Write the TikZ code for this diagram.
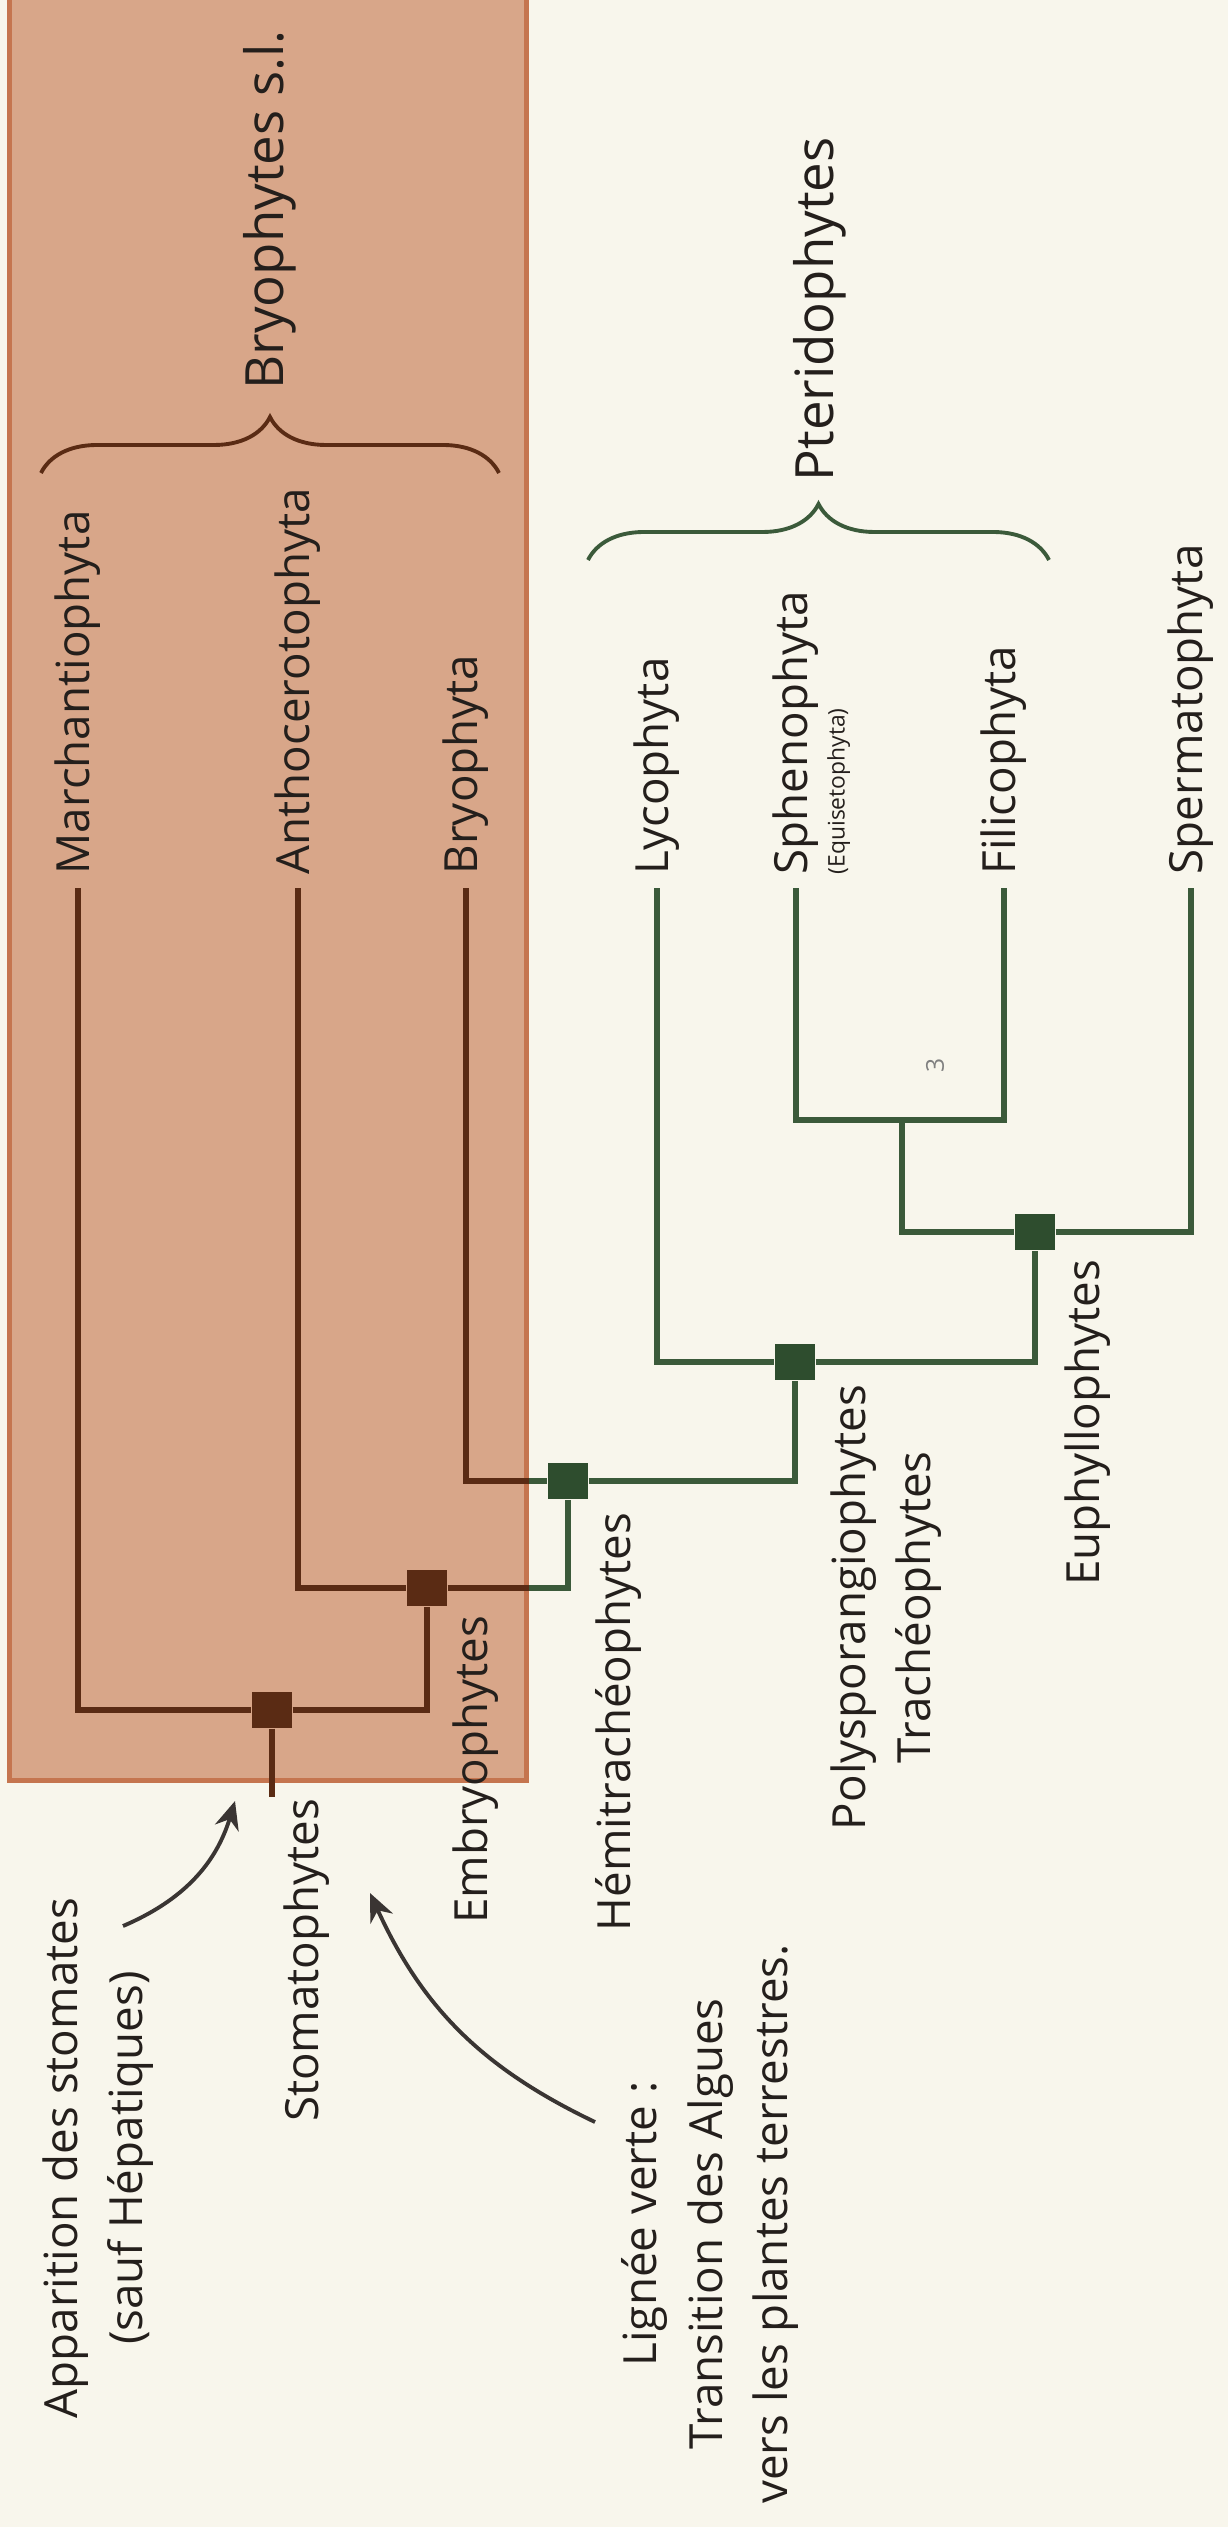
\documentclass[tikz,border=0pt]{standalone}
\usepackage{fontspec}
\setmainfont{Open Sans}
\usetikzlibrary{positioning,arrows.meta,decorations.pathreplacing}

\definecolor{paper}{HTML}{F8F6EC}
\definecolor{bryofill}{HTML}{D8A689}
\definecolor{bryoedge}{HTML}{C5754F}
\definecolor{bark}{HTML}{5A2B14}
\definecolor{fern}{HTML}{3B5A3A}
\definecolor{fernsq}{HTML}{2E4D2E}
\definecolor{ink}{HTML}{241F1C}

\begin{document}
\begin{tikzpicture}[
  x=0.01cm, y=-0.01cm,
  taxon/.style={rotate=90, anchor=west, inner xsep=0.13cm, inner ysep=0pt,
    font=\fontsize{13}{15}\selectfont, text=ink},
  subtaxon/.style={rotate=90, inner xsep=0.13cm, inner ysep=2pt,
    font=\fontsize{6.5}{8}\selectfont, text=ink},
  clade/.style={rotate=90, anchor=east, inner sep=0pt, align=center,
    font=\fontsize{13}{18.5}\selectfont, text=ink},
  group/.style={rotate=90, anchor=west, inner sep=0pt,
    font=\fontsize{15}{18}\selectfont, text=ink},
  note/.style={rotate=90, inner sep=0pt, align=center,
    font=\fontsize{13}{18.5}\selectfont, text=ink},
  brsq/.style={fill=bark, minimum width=0.4cm, minimum height=0.36cm, inner sep=0pt},
  grsq/.style={brsq, fill=fernsq},
  brline/.style={draw=bark, line width=1.5pt},
  grline/.style={draw=fern, line width=1.5pt},
  brace/.style={decorate, line width=1.1pt,
    decoration={brace, amplitude=0.56cm}},
  pointer/.style={draw=ink!90, line width=1.1pt, -{Stealth[length=8pt, width=7pt]}},
  >=Stealth
]
\path[use as bounding box, fill=paper] (0,0) rectangle (1228,2527);

\node[draw=bryoedge, fill=bryofill, line width=1.4pt, minimum width=5.17cm,
  minimum height=17.9cm, inner sep=0pt] (bryo) at (268,885) {};

% taxa
\node[taxon] (march) at (78,888) {Marchantiophyta};
\node[taxon] (antho) at (298,888) {Anthocerotophyta};
\node[taxon] (bryophyta) at (466,888) {Bryophyta};
\node[taxon] (lyco) at (657,888) {Lycophyta};
\node[taxon] (sphen) at (796,888) {Sphenophyta};
\node[subtaxon, anchor=north west] (equi) at (sphen.south west) {(Equisetophyta)};
\node[taxon] (fili) at (1004,888) {Filicophyta};
\node[taxon] (sperm) at (1191,888) {Spermatophyta};

% nodes of the tree
\node[brsq] (stoma) at (272,1710) {};
\node[brsq] (embryo) at (427,1588) {};
\node[grsq] (hemi) at (568,1481) {};
\node[grsq] (trach) at (795,1362) {};
\node[grsq] (euphyl) at (1035,1232) {};
\coordinate (jn) at (902,1120);
\coordinate (root) at (272,1797);

\draw[brline] (stoma) -- (root);
\draw[brline] (march.west) |- (stoma);
\draw[brline] (stoma) -| (embryo);
\draw[brline] (antho.west) |- (embryo);
\draw[brline] (embryo) -- (embryo -| bryo.east);
\draw[grline] (embryo -| bryo.east) -| (hemi);
\draw[brline] (bryophyta.west) |- (hemi -| bryo.east);
\draw[grline] (hemi -| bryo.east) -- (hemi);
\draw[grline] (hemi) -| (trach);
\draw[grline] (lyco.west) |- (trach);
\draw[grline] (trach) -| (euphyl);
\draw[grline] (euphyl) -| (sperm.west);
\draw[grline] (sphen.west) |- (jn) -| (fili.west);
\draw[grline] (jn) |- (euphyl);

% groups
\draw[brace, draw=bark] (41,473) -- (499,473);
\node[group] (bryos) at (270,390) {Bryophytes s.l.};
\draw[brace, draw=fern] (588,560) -- (1049,560);
\node[group] (pterido) at (820,482) {Pteridophytes};

% clade names
\node[clade] (stomaL) at (307,1798) {Stomatophytes};
\node[clade] (embryoL) at (476,1615) {Embryophytes};
\node[clade] (hemiL) at (618,1512) {Hémitrachéophytes};
\node[clade] (trachL) at (886,1384) {Polysporangiophytes\\Trachéophytes};
\node[clade] (euphylL) at (1088,1259) {Euphyllophytes};

\node[rotate=90, text=gray, font=\fontsize{7}{8}\selectfont] (pnum) at (935,1065) {3};

% notes
\node[note] (stomates) at (98,2158) {Apparition des stomates\\(sauf Hépatiques)};
\node[note] (lignee) at (710,2224) {Lignée verte :\\Transition des Algues\\vers les plantes terrestres.};
\coordinate (stomatesTip) at (235,1801);
\coordinate (stomatesTail) at (123,1926);
\coordinate (ligneeTip) at (370,1893);
\coordinate (ligneeTail) at (595,2122);
\draw[pointer] (stomatesTail) to[bend right=25] (stomatesTip);
\draw[pointer] (ligneeTail) to[bend left=20] (ligneeTip);
\end{tikzpicture}
\end{document}
